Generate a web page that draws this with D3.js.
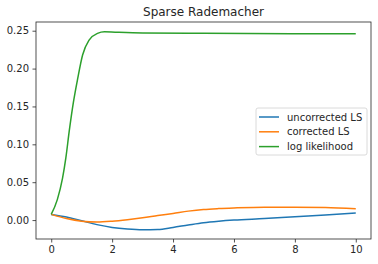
<!DOCTYPE html>
<html>
<head>
<meta charset="utf-8">
<script src="https://cdn.jsdelivr.net/npm/d3@7"></script>
<style>
  body { margin: 0; background: #fff; }
  text { font-family: "DejaVu Sans", sans-serif; fill: #262626; }
</style>
</head>
<body>
<div id="chart"></div>
<script>
// series
var uncorrX = [0, 0.5, 1, 1.5, 2, 2.5, 3, 3.5, 4, 4.5, 5, 5.5, 6, 7, 8, 9, 10];
var uncorrY = [0.0075, 0.004, -0.001, -0.006, -0.0097, -0.0118, -0.0128, -0.0125, -0.0097, -0.0065, -0.0035, -0.0015, 0, 0.002, 0.0044, 0.0066, 0.0092];

var corrX = [0, 0.5, 1, 1.5, 2, 2.5, 3, 3.5, 4, 4.5, 5, 5.5, 6, 7, 8, 9, 10];
var corrY = [0.0075, 0.002, -0.0015, -0.0026, -0.0015, 0.0005, 0.003, 0.006, 0.0088, 0.0118, 0.014, 0.0152, 0.016, 0.017, 0.017, 0.0165, 0.015];

var llX = [0, 0.2, 0.37, 0.48, 0.59, 0.73, 0.87, 1.03, 1.25, 1.52, 1.75, 2.1, 3, 5, 10];
var llY = [0.0075, 0.027, 0.055, 0.082, 0.117, 0.156, 0.187, 0.218, 0.238, 0.2465, 0.2485, 0.248, 0.247, 0.2465, 0.246];

var seriesNames = ["uncorrected LS", "corrected LS", "log likelihood"];
var seriesColors = ["#1f77b4", "#ff7f0e", "#2ca02c"];
var xTicks = [0, 2, 4, 6, 8, 10];
var yTicks = [0, 0.05, 0.1, 0.15, 0.2, 0.25];
var title = "Sparse Rademacher";

var W = 378, H = 264;
var m = {left: 36, right: 7, top: 22, bottom: 25};

var svg = d3.select("#chart").append("svg")
  .attr("width", W)
  .attr("height", H);

var x = d3.scaleLinear().domain([-0.5, 10.5]).range([m.left, W - m.right]);
var y = d3.scaleLinear().domain([-0.025, 0.2615]).range([H - m.bottom, m.top]);

var series = [
  {x: uncorrX, y: uncorrY},
  {x: corrX, y: corrY},
  {x: llX, y: llY}
];

var line = d3.line()
  .x(d => x(d[0]))
  .y(d => y(d[1]))
  .curve(d3.curveMonotoneX);

var plot = svg.append("g");
series.forEach(function(s, i) {
  plot.append("path")
    .datum(d3.zip(s.x, s.y))
    .attr("d", line)
    .attr("fill", "none")
    .attr("stroke", seriesColors[i])
    .attr("stroke-width", 1.5);
});

//axes
var xAxis = svg.append("g")
  .attr("transform", "translate(0," + (H - m.bottom) + ")")
  .call(d3.axisBottom(x).tickValues(xTicks).tickSize(3.5).tickPadding(3.5).tickFormat(d3.format("d")));
var yAxis = svg.append("g")
  .attr("transform", "translate(" + m.left + ",0)")
  .call(d3.axisLeft(y).tickValues(yTicks).tickSize(3.5).tickPadding(3.5).tickFormat(d3.format(".2f")));
[xAxis, yAxis].forEach(function(a) {
  a.select(".domain").remove();
  a.selectAll("line").attr("stroke", "#262626").attr("stroke-width", 0.8);
  a.selectAll("text").style("font-size", "10px").style("font-family", "DejaVu Sans").attr("fill", "#262626");
});

// frame
svg.append("rect")
  .attr("x", m.left).attr("y", m.top)
  .attr("width", W - m.right - m.left)
  .attr("height", H - m.bottom - m.top)
  .attr("fill", "none")
  .attr("stroke", "#262626")
  .attr("stroke-width", 0.8);

svg.append("text")
  .attr("x", (m.left + W - m.right) / 2)
  .attr("y", 16)
  .attr("text-anchor", "middle")
  .style("font-size", "12px")
  .text(title);

// legend
var lg = svg.append("g").attr("transform", "translate(256,108)");
lg.append("rect")
  .attr("width", 111).attr("height", 47)
  .attr("rx", 2)
  .attr("fill", "#fff").attr("fill-opacity", 0.8)
  .attr("stroke", "#d0d0d0").attr("stroke-width", 0.8);
seriesNames.forEach(function(n, i) {
  var yy = 9 + i * 14.8;
  lg.append("line")
    .attr("x1", 3).attr("x2", 23)
    .attr("y1", yy).attr("y2", yy)
    .attr("stroke", seriesColors[i]).attr("stroke-width", 1.5);
  lg.append("text")
    .attr("x", 31).attr("y", yy + 3.5)
    .style("font-size", "10px")
    .text(n);
});
</script>
</body>
</html>
